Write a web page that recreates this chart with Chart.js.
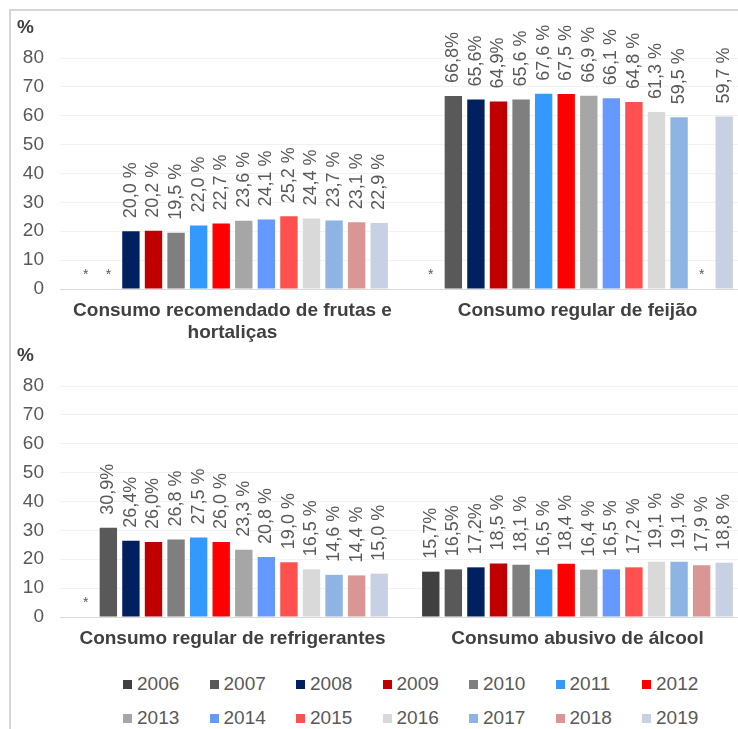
<!DOCTYPE html>
<html lang="pt-BR">
<head>
    <meta charset="UTF-8">
    <title>Consumo alimentar e de álcool, 2006-2019</title>
    <script src="https://cdn.jsdelivr.net/npm/chart.js"></script>
    <style>
        html, body { margin: 0; padding: 0; width: 738px; height: 729px; overflow: hidden; background: #fff; }
        #moldura { position: absolute; left: 9px; top: 9px; width: 800px; height: 800px;
                   border-left: 2px solid #d6d6d6; border-top: 2px solid #d6d6d6; }
        canvas { position: absolute; left: 12px; }
        #g1 { top: 12px; }
        #g2 { top: 342px; }
        #legenda { position: absolute; left: 123px; top: 667px; display: grid;
                   grid-template-columns: repeat(7, 86.5px); grid-auto-rows: 34px;
                   font: 19px "Liberation Sans", Arial, sans-serif; color: #595959; }
        #legenda span { display: flex; align-items: center; }
        #legenda i { display: inline-block; width: 9px; height: 9px; margin-right: 5px; }
    </style>
</head>
<body>
<div id="moldura"></div>
<canvas id="g1" width="738" height="330"></canvas>
<canvas id="g2" width="738" height="318"></canvas>
<div id="legenda"></div>

<script>
    const fonte = '"Liberation Sans", Arial, sans-serif';

    const anos = ['2006', '2007', '2008', '2009', '2010', '2011', '2012',
                  '2013', '2014', '2015', '2016', '2017', '2018', '2019'];
    const cores = ['#404040', '#595959', '#002060', '#c00000', '#7f7f7f', '#3399ff', '#ff0000',
                   '#a6a6a6', '#6699ff', '#ff5050', '#d9d9d9', '#8db4e2', '#da9694', '#c8d1e4'];

    // null = sem dado (aparece como *)
    const frutas = [null, null, 20.0, 20.2, 19.5, 22.0, 22.7, 23.6, 24.1, 25.2, 24.4, 23.7, 23.1, 22.9];
    const feijao = [null, 66.8, 65.6, 64.9, 65.6, 67.6, 67.5, 66.9, 66.1, 64.8, 61.3, 59.5, null, 59.7];
    const refrigerantes = [null, 30.9, 26.4, 26.0, 26.8, 27.5, 26.0, 23.3, 20.8, 19.0, 16.5, 14.6, 14.4, 15.0];
    const alcool = [15.7, 16.5, 17.2, 18.5, 18.1, 16.5, 18.4, 16.4, 16.5, 17.2, 19.1, 19.1, 17.9, 18.8];

    // anos em que o rótulo sai sem espaço antes do %
    const semEspacoFrutas = [];
    const semEspacoFeijao = ['2007', '2008', '2009'];
    const semEspacoRefri = ['2007', '2008', '2009'];
    const semEspacoAlcool = ['2006', '2007', '2008'];

    const categoriasTopo = [['Consumo recomendado de frutas e', 'hortaliças'], 'Consumo regular de feijão'];
    const categoriasBase = ['Consumo regular de refrigerantes', 'Consumo abusivo de álcool'];

    function formata(v, semEspaco) {
        return v.toFixed(1).replace('.', ',') + (semEspaco ? '%' : ' %');
    }

    function montaDatasets(series) {
        return anos.map((ano, i) => ({
            label: ano,
            data: series.map(s => s.valores[i]),
            semEspaco: series.map(s => s.semEspaco.includes(ano)),
            backgroundColor: cores[i],
            barPercentage: 0.77,
            categoryPercentage: 0.916
        }));
    }

    // rótulos verticais em cima das barras, * onde não há dado e o "%" do eixo
    const rotulos = {
        id: 'rotulos',
        afterDatasetsDraw(chart) {
            const ctx = chart.ctx;
            const zero = chart.scales.y.getPixelForValue(0);
            ctx.save();
            ctx.fillStyle = '#595959';
            chart.data.datasets.forEach((ds, i) => {
                chart.getDatasetMeta(i).data.forEach((bar, j) => {
                    const v = ds.data[j];
                    if (v === null) {
                        ctx.font = '14px ' + fonte;
                        ctx.textAlign = 'center';
                        ctx.textBaseline = 'alphabetic';
                        ctx.fillText('*', bar.x, zero - 10);
                        return;
                    }
                    ctx.save();
                    ctx.translate(bar.x, bar.y - 13);
                    ctx.rotate(-Math.PI / 2);
                    ctx.font = '18px ' + fonte;
                    ctx.textAlign = 'left';
                    ctx.textBaseline = 'middle';
                    ctx.fillText(formata(v, ds.semEspaco[j]), 0, 0);
                    ctx.restore();
                });
            });
            ctx.font = 'bold 19px ' + fonte;
            ctx.fillStyle = '#404040';
            ctx.textAlign = 'left';
            ctx.textBaseline = 'middle';
            ctx.fillText('%', 5, chart.chartArea.top - 30);
            ctx.restore();
        }
    };

    function opcoes(topo, alturaX) {
        return {
            responsive: false,
            animation: false,
            layout: { padding: { top: topo, left: 0, right: 0, bottom: 0 } },
            plugins: { legend: { display: false }, tooltip: { enabled: false } },
            scales: {
                x: {
                    grid: { display: false, drawTicks: false },
                    border: { display: false },
                    ticks: {
                        color: '#404040',
                        font: { family: fonte, size: 19, weight: 'bold' },
                        padding: 10,
                        maxRotation: 0,
                        autoSkip: false
                    },
                    afterFit(axis) { axis.height = alturaX; }
                },
                y: {
                    min: 0,
                    max: 80,
                    ticks: { stepSize: 10, color: '#595959', font: { family: fonte, size: 19 }, padding: 16 },
                    grid: { color: c => c.tick.value === 0 ? '#d9d9d9' : '#f1f1f1', drawTicks: false },
                    border: { display: false },
                    afterFit(axis) { axis.width = 48; }
                }
            }
        };
    }

    new Chart(document.getElementById('g1'), {
        type: 'bar',
        data: {
            labels: categoriasTopo,
            datasets: montaDatasets([
                { valores: frutas, semEspaco: semEspacoFrutas },
                { valores: feijao, semEspaco: semEspacoFeijao }
            ])
        },
        options: opcoes(46, 53),
        plugins: [rotulos]
    });

    new Chart(document.getElementById('g2'), {
        type: 'bar',
        data: {
            labels: categoriasBase,
            datasets: montaDatasets([
                { valores: refrigerantes, semEspaco: semEspacoRefri },
                { valores: alcool, semEspaco: semEspacoAlcool }
            ])
        },
        options: opcoes(44, 43),
        plugins: [rotulos]
    });

    const legenda = document.getElementById('legenda');
    anos.forEach((ano, i) => {
        const item = document.createElement('span');
        item.innerHTML = `<i style="background:${cores[i]}"></i>${ano}`;
        legenda.appendChild(item);
    });
</script>
</body>
</html>
